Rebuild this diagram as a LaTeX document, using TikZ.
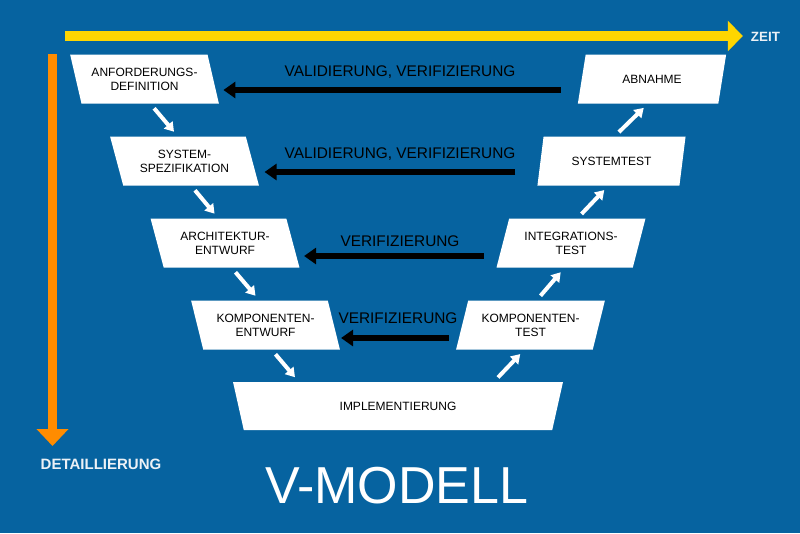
\documentclass[tikz,border=0pt]{standalone}
\usepackage{fontspec}
\setmainfont{Liberation Sans}
\usetikzlibrary{shapes.geometric,arrows.meta,calc}
\definecolor{vblue}{RGB}{6,99,160}
\definecolor{vyellow}{RGB}{255,214,0}
\definecolor{vorange}{RGB}{255,140,0}
\definecolor{vpale}{RGB}{236,241,246}

\begin{document}
\begin{tikzpicture}[x=1pt, y=-1pt,
  boxl/.style={trapezium, trapezium left angle=113, trapezium right angle=67, trapezium stretches=true, fill=white, minimum width=149pt, minimum height=49pt, inner sep=0pt, align=center, font=\fontsize{12}{14}\selectfont},
  boxr/.style={boxl, trapezium left angle=67, trapezium right angle=113},
  vv/.style={anchor=base, font=\fontsize{15.4}{18}\selectfont},
  flow/.style={white, line width=4pt, -{Triangle[length=9pt,width=11pt]}, shorten <=6pt, shorten >=6pt},
  back/.style={black, line width=6pt, -{Triangle[length=12pt,width=16pt]}}]

\fill [vblue] (0,0) rectangle (800,533);

\node (zeit) at (765.5,37) [inner sep=0pt, text=vpale, font=\bfseries\fontsize{13.4}{16}\selectfont] {ZEIT};
\node (detail) at (101,464) [inner sep=0pt, text=vpale, font=\bfseries\fontsize{15}{18}\selectfont] {DETAILLIERUNG};
\node (title) at (397,486) [inner sep=0pt, text=white, font=\fontsize{52}{60}\selectfont] {V-MODELL};

\coordinate (t0) at (65,36);
\coordinate (d0) at (52.5,54);
\coordinate (d1) at (52.5,446);
\draw [vyellow, line width=10pt, -{Triangle[length=15pt,width=30pt]}, shorten >=8pt] (t0) -- (t0 -| zeit.west);
\draw [vorange, line width=9.5pt, -{Triangle[length=17pt,width=31pt]}] (d0) -- (d1);

\node (anf) at (144.5,79) [boxl] {ANFORDERUNGS-\\DEFINITION};
\node (sys) at (184.5,161) [boxl] {SYSTEM-\\SPEZIFIKATION};
\node (arch) at (225,243) [boxl] {ARCHITEKTUR-\\ENTWURF};
\node (kent) at (265.5,325) [boxl] {KOMPONENTEN-\\ENTWURF};

\node (abn) at (652,79) [boxr] {ABNAHME};
\node (syst) at (611.5,161) [boxr] {SYSTEMTEST};
\node (integ) at (571,243) [boxr] {INTEGRATIONS-\\TEST};
\node (ktest) at (530.5,325) [boxr] {KOMPONENTEN-\\TEST};

\node (impl) at (398,406) [trapezium, trapezium left angle=115.6, trapezium right angle=115.6, trapezium stretches=true, fill=white, minimum width=330pt, minimum height=48pt, inner sep=0pt, font=\fontsize{12}{14}\selectfont] {IMPLEMENTIERUNG};

\node (v1) at (400,76.5) [vv] {VALIDIERUNG, VERIFIZIERUNG};
\node (v2) at (400,158.5) [vv] {VALIDIERUNG, VERIFIZIERUNG};
\node (v3) at (400,246.5) [vv] {VERIFIZIERUNG};
\node (v4) at (398,323.5) [vv] {VERIFIZIERUNG};

\begin{scope}[back]
\draw [shorten <=21pt, shorten >=10pt] ([yshift=-11pt]abn.left side) -- ([yshift=-11pt]anf.right side);
\draw [shorten <=25pt, shorten >=12pt] ([yshift=-11pt]syst.left side) -- ([yshift=-11pt]sys.right side);
\draw [shorten <=19pt, shorten >=11pt] ([yshift=-13pt]integ.left side) -- ([yshift=-13pt]arch.right side);
\draw [shorten <=13pt, shorten >=7pt] ([yshift=-13pt]ktest.left side) -- ([yshift=-13pt]kent.right side);
\end{scope}

\begin{scope}[flow]
\draw (anf.bottom side) -- (sys.top side);
\draw (sys.bottom side) -- (arch.top side);
\draw (arch.bottom side) -- (kent.top side);
\draw (kent.bottom side) -- ($(impl.top left corner)!.2!(impl.top right corner)$);
\draw ($(impl.top left corner)!.79!(impl.top right corner)$) -- (ktest.bottom side);
\draw (ktest.top side) -- (integ.bottom side);
\draw (integ.top side) -- (syst.bottom side);
\draw (syst.top side) -- (abn.bottom side);
\end{scope}

\end{tikzpicture}
\end{document}
